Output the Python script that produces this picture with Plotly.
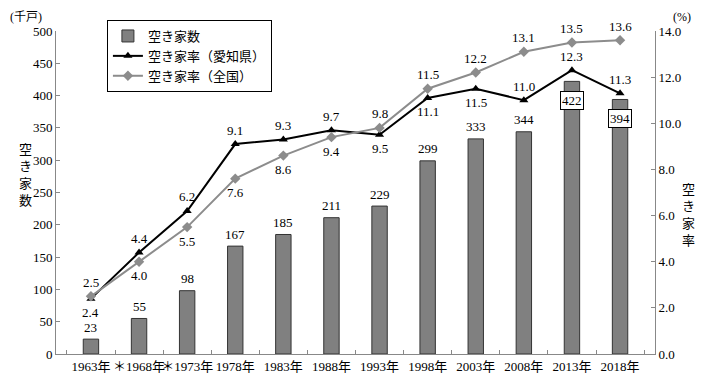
import plotly.graph_objects as go

years = ["1963年", "＊1968年", "＊1973年", "1978年", "1983年", "1988年",
         "1993年", "1998年", "2003年", "2008年", "2013年", "2018年"]
vacant_homes = [23, 55, 98, 167, 185, 211, 229, 299, 333, 344, 422, 394]
rate_aichi = [2.4, 4.4, 6.2, 9.1, 9.3, 9.7, 9.5, 11.1, 11.5, 11.0, 12.3, 11.3]
rate_japan = [2.5, 4.0, 5.5, 7.6, 8.6, 9.4, 9.8, 11.5, 12.2, 13.1, 13.5, 13.6]

# label placement (1 = above, -1 = below)
aichi_pos = [-1, 1, 1, 1, 1, 1, -1, -1, -1, 1, 1, 1]
japan_pos = [1, -1, -1, -1, -1, -1, 1, 1, 1, 1, 1, 1]
bar_boxed = [False] * 10 + [True, True]

FONT = "Liberation Serif, Noto Sans CJK JP"
TXT = dict(size=13, color="#000000", family=FONT)

fig = go.Figure()
fig.add_trace(go.Bar(x=years, y=vacant_homes, name="空き家数", width=0.32,
                     marker=dict(color="#808080", line=dict(color="#333333", width=1))))
fig.add_trace(go.Scatter(x=years, y=rate_aichi, name="空き家率（愛知県）", yaxis="y2",
                         mode="lines+markers", line=dict(color="black", width=2),
                         marker=dict(symbol="triangle-up", size=8, color="black")))
fig.add_trace(go.Scatter(x=years, y=rate_japan, name="空き家率（全国）", yaxis="y2",
                         mode="lines+markers", line=dict(color="#8c8c8c", width=2),
                         marker=dict(symbol="diamond", size=8, color="#8c8c8c")))

ann = []
for x, v, boxed in zip(years, vacant_homes, bar_boxed):
    if boxed:
        ann.append(dict(x=x, y=v, xref="x", yref="y", text=str(v), showarrow=False,
                        yshift=-19, bgcolor="white", bordercolor="black", borderwidth=1,
                        borderpad=1, font=TXT))
    else:
        ann.append(dict(x=x, y=v, xref="x", yref="y", text=str(v), showarrow=False,
                        yshift=12, font=TXT))
for vals, pos in ((rate_aichi, aichi_pos), (rate_japan, japan_pos)):
    for x, v, p in zip(years, vals, pos):
        ann.append(dict(x=x, y=v, xref="x", yref="y2", text=f"{v:.1f}", showarrow=False,
                        yshift=14 * p, font=TXT))

ann.append(dict(text="(千戸)", x=-0.05, y=1.043, xref="paper", yref="paper",
                showarrow=False, xanchor="center", yanchor="middle",
                font=dict(size=12, color="black", family=FONT)))
ann.append(dict(text="(%)", x=1.045, y=1.043, xref="paper", yref="paper",
                showarrow=False, xanchor="center", yanchor="middle",
                font=dict(size=12, color="black", family=FONT)))
ann.append(dict(text="空<br>き<br>家<br>数", x=-0.065, y=0.554, xref="paper", yref="paper",
                showarrow=False, font=TXT))
ann.append(dict(text="空<br>き<br>家<br>率", x=1.07, y=0.43, xref="paper", yref="paper",
                showarrow=False, font=TXT))

fig.update_layout(
    annotations=ann,
    width=704, height=376,
    margin=dict(l=48, r=57, t=23, b=30, autoexpand=False),
    plot_bgcolor="white", paper_bgcolor="white",
    font=dict(family=FONT, size=13, color="black"),
    showlegend=True,
    legend=dict(x=0.085, y=1.034, xanchor="left", yanchor="top",
                bordercolor="black", borderwidth=1, bgcolor="white",
                font=dict(size=13), tracegroupgap=0),
    xaxis=dict(type="category", showline=True, linecolor="#888888", ticks="inside",
               tickson="boundaries", ticklen=4, tickcolor="#888888", showgrid=False,
               tickangle=0, tickfont=dict(size=13)),
    yaxis=dict(range=[0, 500], dtick=50, showline=True, linecolor="#888888",
               ticks="inside", ticklen=4, tickcolor="#888888", showgrid=False,
               zeroline=False),
    yaxis2=dict(range=[0, 14], dtick=2, overlaying="y", side="right", showline=True,
                linecolor="#888888", ticks="inside", ticklen=4, tickcolor="#888888",
                showgrid=False, zeroline=False, tickformat=".1f"),
)
fig.write_html("out.html")
